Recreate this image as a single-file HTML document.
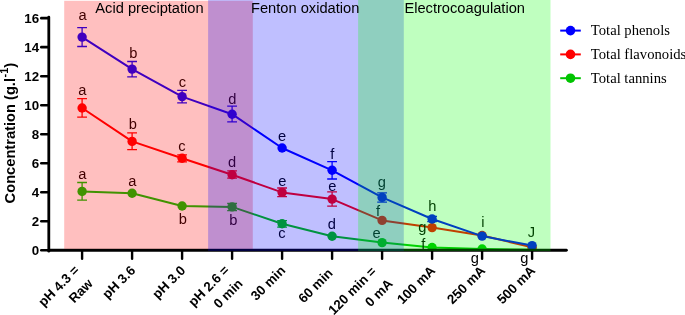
<!DOCTYPE html>
<html><head><meta charset="utf-8"><title>Chart</title>
<style>
html,body{margin:0;padding:0;background:#fff;}
svg{display:block;will-change:transform;font-family:"Liberation Sans",sans-serif;}
</style></head>
<body>
<svg width="685" height="315" viewBox="0 0 685 315">
<rect width="685" height="315" fill="#fff"/>
<clipPath id="cp"><rect x="50" y="0" width="520" height="250.6"/></clipPath>
<g clip-path="url(#cp)">
<path d="M82.1 182.5V200.2M77.2 182.5H87.0M77.2 200.2H87.0" stroke="#00c400" stroke-width="1.3" fill="none"/>
<path d="M232.1 203.5V210.7M227.2 203.5H237.0M227.2 210.7H237.0" stroke="#00c400" stroke-width="1.3" fill="none"/>
<path d="M282.1 220.6V227.2M277.2 220.6H287.0M277.2 227.2H287.0" stroke="#00c400" stroke-width="1.3" fill="none"/>
<polyline points="82.1,191.4 132.1,193.3 182.1,206.0 232.1,206.9 282.1,223.8 332.1,236.2 382.1,242.6 432.1,247.5 482.1,249.0 532.1,249.8" fill="none" stroke="#00c400" stroke-width="2" stroke-linejoin="round"/>
<circle cx="82.1" cy="191.4" r="4.7" fill="#00c400"/>
<circle cx="132.1" cy="193.3" r="4.7" fill="#00c400"/>
<circle cx="182.1" cy="206.0" r="4.7" fill="#00c400"/>
<circle cx="232.1" cy="206.9" r="4.7" fill="#00c400"/>
<circle cx="282.1" cy="223.8" r="4.7" fill="#00c400"/>
<circle cx="332.1" cy="236.2" r="4.7" fill="#00c400"/>
<circle cx="382.1" cy="242.6" r="4.7" fill="#00c400"/>
<circle cx="432.1" cy="247.5" r="4.7" fill="#00c400"/>
<circle cx="482.1" cy="249.0" r="4.7" fill="#00c400"/>
<circle cx="532.1" cy="249.8" r="4.7" fill="#00c400"/>
<path d="M82.1 98.6V117.1M77.2 98.6H87.0M77.2 117.1H87.0" stroke="#ff0000" stroke-width="1.3" fill="none"/>
<path d="M132.1 132.9V149.6M127.2 132.9H137.0M127.2 149.6H137.0" stroke="#ff0000" stroke-width="1.3" fill="none"/>
<path d="M182.1 154.8V161.8M177.2 154.8H187.0M177.2 161.8H187.0" stroke="#ff0000" stroke-width="1.3" fill="none"/>
<path d="M232.1 170.9V178.1M227.2 170.9H237.0M227.2 178.1H237.0" stroke="#ff0000" stroke-width="1.3" fill="none"/>
<path d="M282.1 188.0V196.6M277.2 188.0H287.0M277.2 196.6H287.0" stroke="#ff0000" stroke-width="1.3" fill="none"/>
<path d="M332.1 191.9V206.2M327.2 191.9H337.0M327.2 206.2H337.0" stroke="#ff0000" stroke-width="1.3" fill="none"/>
<polyline points="82.1,108.0 132.1,141.4 182.1,158.2 232.1,174.7 282.1,192.4 332.1,199.1 382.1,220.4 432.1,227.6 482.1,235.5 532.1,247.3" fill="none" stroke="#ff0000" stroke-width="2" stroke-linejoin="round"/>
<circle cx="82.1" cy="108.0" r="4.7" fill="#ff0000"/>
<circle cx="132.1" cy="141.4" r="4.7" fill="#ff0000"/>
<circle cx="182.1" cy="158.2" r="4.7" fill="#ff0000"/>
<circle cx="232.1" cy="174.7" r="4.7" fill="#ff0000"/>
<circle cx="282.1" cy="192.4" r="4.7" fill="#ff0000"/>
<circle cx="332.1" cy="199.1" r="4.7" fill="#ff0000"/>
<circle cx="382.1" cy="220.4" r="4.7" fill="#ff0000"/>
<circle cx="432.1" cy="227.6" r="4.7" fill="#ff0000"/>
<circle cx="482.1" cy="235.5" r="4.7" fill="#ff0000"/>
<circle cx="532.1" cy="247.3" r="4.7" fill="#ff0000"/>
<path d="M82.1 27.6V46.5M77.2 27.6H87.0M77.2 46.5H87.0" stroke="#0000ff" stroke-width="1.3" fill="none"/>
<path d="M132.1 61.5V76.8M127.2 61.5H137.0M127.2 76.8H137.0" stroke="#0000ff" stroke-width="1.3" fill="none"/>
<path d="M182.1 90.4V102.8M177.2 90.4H187.0M177.2 102.8H187.0" stroke="#0000ff" stroke-width="1.3" fill="none"/>
<path d="M232.1 106.2V121.8M227.2 106.2H237.0M227.2 121.8H237.0" stroke="#0000ff" stroke-width="1.3" fill="none"/>
<path d="M332.1 161.6V179.0M327.2 161.6H337.0M327.2 179.0H337.0" stroke="#0000ff" stroke-width="1.3" fill="none"/>
<path d="M382.1 192.8V202.2M377.2 192.8H387.0M377.2 202.2H387.0" stroke="#0000ff" stroke-width="1.3" fill="none"/>
<path d="M432.1 216.4V221.6M427.2 216.4H437.0M427.2 221.6H437.0" stroke="#0000ff" stroke-width="1.3" fill="none"/>
<polyline points="82.1,37.1 132.1,69.1 182.1,96.6 232.1,114.2 282.1,148.0 332.1,170.3 382.1,197.4 432.1,219.0 482.1,236.1 532.1,245.6" fill="none" stroke="#0000ff" stroke-width="2" stroke-linejoin="round"/>
<circle cx="82.1" cy="37.1" r="4.7" fill="#0000ff"/>
<circle cx="132.1" cy="69.1" r="4.7" fill="#0000ff"/>
<circle cx="182.1" cy="96.6" r="4.7" fill="#0000ff"/>
<circle cx="232.1" cy="114.2" r="4.7" fill="#0000ff"/>
<circle cx="282.1" cy="148.0" r="4.7" fill="#0000ff"/>
<circle cx="332.1" cy="170.3" r="4.7" fill="#0000ff"/>
<circle cx="382.1" cy="197.4" r="4.7" fill="#0000ff"/>
<circle cx="432.1" cy="219.0" r="4.7" fill="#0000ff"/>
<circle cx="482.1" cy="236.1" r="4.7" fill="#0000ff"/>
<circle cx="532.1" cy="245.6" r="4.7" fill="#0000ff"/>
</g>
<g stroke="#000" stroke-width="2.8" stroke-linecap="round">
<line x1="48.8" y1="17.1" x2="48.8" y2="251.2"/>
<line x1="48.8" y1="250.25" x2="566.4" y2="250.25"/>
</g>
<g stroke="#000" stroke-width="2.6" stroke-linecap="round">
<line x1="41.3" y1="250.30" x2="48" y2="250.30"/>
<line x1="41.3" y1="221.28" x2="48" y2="221.28"/>
<line x1="41.3" y1="192.26" x2="48" y2="192.26"/>
<line x1="41.3" y1="163.24" x2="48" y2="163.24"/>
<line x1="41.3" y1="134.22" x2="48" y2="134.22"/>
<line x1="41.3" y1="105.20" x2="48" y2="105.20"/>
<line x1="41.3" y1="76.18" x2="48" y2="76.18"/>
<line x1="41.3" y1="47.16" x2="48" y2="47.16"/>
<line x1="41.3" y1="18.14" x2="48" y2="18.14"/>
</g>
<g stroke="#000" stroke-width="2.4" stroke-linecap="round">
<line x1="82.1" y1="250.4" x2="82.1" y2="258.7"/>
<line x1="132.1" y1="250.4" x2="132.1" y2="258.7"/>
<line x1="182.1" y1="250.4" x2="182.1" y2="258.7"/>
<line x1="232.1" y1="250.4" x2="232.1" y2="258.7"/>
<line x1="282.1" y1="250.4" x2="282.1" y2="258.7"/>
<line x1="332.1" y1="250.4" x2="332.1" y2="258.7"/>
<line x1="382.1" y1="250.4" x2="382.1" y2="258.7"/>
<line x1="432.1" y1="250.4" x2="432.1" y2="258.7"/>
<line x1="482.1" y1="250.4" x2="482.1" y2="258.7"/>
<line x1="532.1" y1="250.4" x2="532.1" y2="258.7"/>
</g>
<g font-size="13.33" font-weight="bold" fill="#000">
<text x="39.2" y="255.00" text-anchor="end">0</text>
<text x="39.2" y="225.98" text-anchor="end">2</text>
<text x="39.2" y="196.96" text-anchor="end">4</text>
<text x="39.2" y="167.94" text-anchor="end">6</text>
<text x="39.2" y="138.92" text-anchor="end">8</text>
<text x="39.2" y="109.90" text-anchor="end">10</text>
<text x="39.2" y="80.88" text-anchor="end">12</text>
<text x="39.2" y="51.86" text-anchor="end">14</text>
<text x="39.2" y="22.84" text-anchor="end">16</text>
</g>
<g font-size="13.33" font-weight="bold" fill="#000">
<g transform="translate(86.1 266.5) rotate(-45)"><text x="-7.40" y="-1.10" text-anchor="end">pH 4.3 =</text><text x="-7.40" y="18.00" text-anchor="end">Raw</text></g>
<g transform="translate(136.1 266.5) rotate(-45)"><text x="-3.40" y="3.45" text-anchor="end">pH 3.6</text></g>
<g transform="translate(186.1 266.5) rotate(-45)"><text x="-3.40" y="3.45" text-anchor="end">pH 3.0</text></g>
<g transform="translate(236.1 266.5) rotate(-45)"><text x="-7.40" y="-1.10" text-anchor="end">pH 2.6 =</text><text x="-7.40" y="18.00" text-anchor="end">0 min</text></g>
<g transform="translate(286.1 266.5) rotate(-45)"><text x="-3.40" y="3.45" text-anchor="end">30 min</text></g>
<g transform="translate(336.1 266.5) rotate(-45)"><text x="-7.10" y="3.45" text-anchor="end">60 min</text></g>
<g transform="translate(386.1 266.5) rotate(-45)"><text x="-10.40" y="-2.40" text-anchor="end">120 min =</text><text x="-7.40" y="18.00" text-anchor="end">0 mA</text></g>
<g transform="translate(436.1 266.5) rotate(-45)"><text x="-3.40" y="3.45" text-anchor="end">100 mA</text></g>
<g transform="translate(486.1 266.5) rotate(-45)"><text x="-3.40" y="3.45" text-anchor="end">250 mA</text></g>
<g transform="translate(536.1 266.5) rotate(-45)"><text x="-3.40" y="3.45" text-anchor="end">500 mA</text></g>
</g>
<text transform="translate(14.8 203.4) rotate(-90)" font-size="14.67" font-weight="bold" fill="#000">Concentration (g.l<tspan font-size="11" dy="-6.7" dx="0.6">-1</tspan><tspan dy="6.7">)</tspan></text>
<g font-size="14.67" fill="#000">
<text x="82.5" y="19.6" text-anchor="middle">a</text>
<text x="133.3" y="57.9" text-anchor="middle">b</text>
<text x="182.5" y="86.6" text-anchor="middle">c</text>
<text x="232.4" y="103.9" text-anchor="middle">d</text>
<text x="282.0" y="140.6" text-anchor="middle">e</text>
<text x="332.3" y="159.0" text-anchor="middle">f</text>
<text x="381.9" y="187.0" text-anchor="middle">g</text>
<text x="432.4" y="210.5" text-anchor="middle">h</text>
<text x="482.8" y="226.8" text-anchor="middle">i</text>
<text x="531.5" y="236.7" text-anchor="middle">J</text>
<text x="82.3" y="95.4" text-anchor="middle">a</text>
<text x="132.8" y="129.0" text-anchor="middle">b</text>
<text x="181.9" y="150.6" text-anchor="middle">c</text>
<text x="232.0" y="166.7" text-anchor="middle">d</text>
<text x="282.3" y="186.3" text-anchor="middle">e</text>
<text x="332.4" y="190.6" text-anchor="middle">e</text>
<text x="378.1" y="215.6" text-anchor="middle">f</text>
<text x="422.3" y="231.6" text-anchor="middle">g</text>
<text x="82.3" y="178.5" text-anchor="middle">a</text>
<text x="132.4" y="185.7" text-anchor="middle">a</text>
<text x="182.8" y="223.7" text-anchor="middle">b</text>
<text x="233.4" y="224.6" text-anchor="middle">b</text>
<text x="282.0" y="238.1" text-anchor="middle">c</text>
<text x="331.9" y="229.1" text-anchor="middle">d</text>
<text x="376.6" y="238.2" text-anchor="middle">e</text>
<text x="423.4" y="249.0" text-anchor="middle">f</text>
<text x="474.8" y="262.6" text-anchor="middle">g</text>
<text x="524.3" y="262.6" text-anchor="middle">g</text>
</g>
<rect x="64.2" y="0.8" width="188.6" height="248.1" fill="#ff0000" fill-opacity="0.25"/>
<rect x="208.1" y="0" width="195.7" height="251" fill="#0000ff" fill-opacity="0.25"/>
<rect x="358.1" y="0" width="192.4" height="251" fill="#00ff00" fill-opacity="0.25"/>
<g font-size="14.67" fill="#000">
<text x="95.3" y="13.45">Acid preciptation</text>
<text x="251.0" y="13.45">Fenton oxidation</text>
<text x="404.4" y="13.45">Electrocoagulation</text>
</g>
<g stroke-width="2">
<line x1="560.2" x2="580.8" y1="30.6" y2="30.6" stroke="#0000ff"/><circle cx="570.5" cy="30.6" r="4.8" fill="#0000ff"/>
<line x1="560.2" x2="580.8" y1="54.4" y2="54.4" stroke="#ff0000"/><circle cx="570.5" cy="54.4" r="4.8" fill="#ff0000"/>
<line x1="560.2" x2="580.8" y1="78.2" y2="78.2" stroke="#00c400"/><circle cx="570.5" cy="78.2" r="4.8" fill="#00c400"/>
</g>
<g font-family="'Liberation Serif',serif" font-size="14.67" fill="#000">
<text x="590.8" y="35.2">Total phenols</text>
<text x="590.8" y="59.1">Total flavonoids</text>
<text x="590.8" y="82.9">Total tannins</text>
</g>
</svg>
</body></html>
